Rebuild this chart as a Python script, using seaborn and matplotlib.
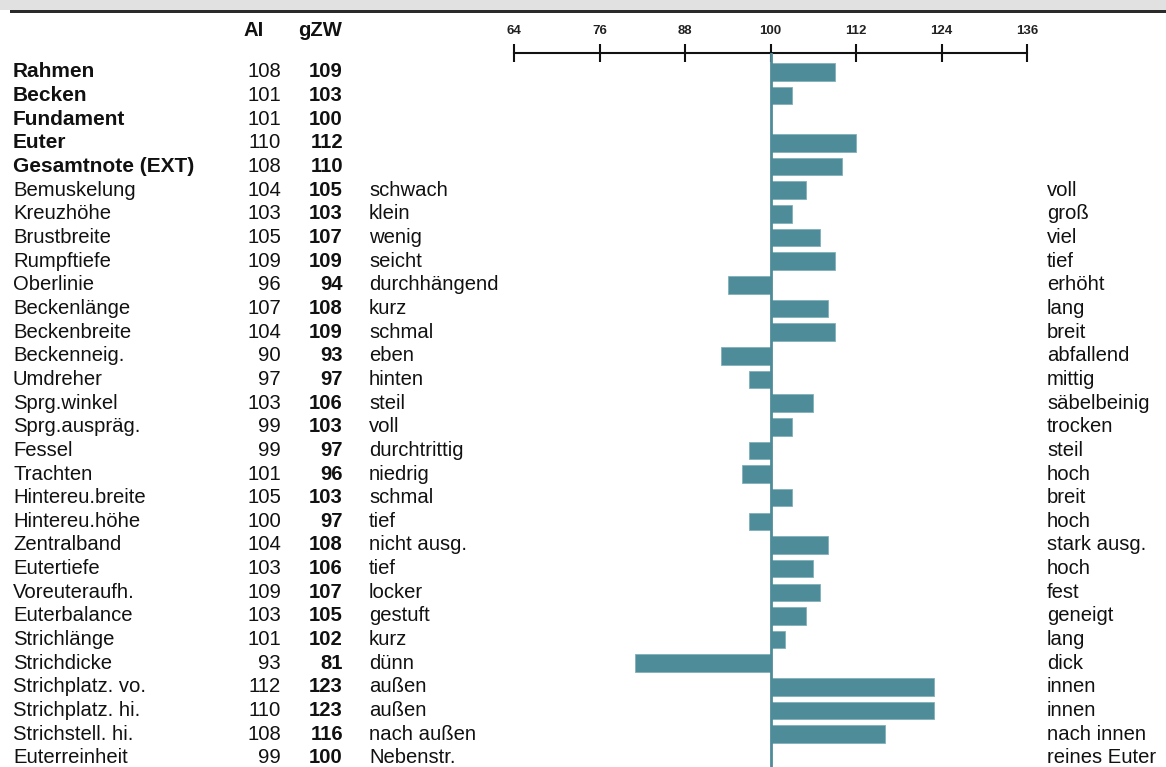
import numpy as np
import pandas as pd
import matplotlib
matplotlib.use("Agg")
import matplotlib.pyplot as plt
import matplotlib.transforms as mtransforms
from matplotlib.patches import Rectangle
import seaborn as sns

# Merkmale (Exterieur) mit AI und gZW
merkmale = ["Rahmen", "Becken", "Fundament", "Euter", "Gesamtnote (EXT)",
            "Bemuskelung", "Kreuzhöhe", "Brustbreite", "Rumpftiefe", "Oberlinie",
            "Beckenlänge", "Beckenbreite", "Beckenneig.", "Umdreher", "Sprg.winkel",
            "Sprg.auspräg.", "Fessel", "Trachten", "Hintereu.breite", "Hintereu.höhe",
            "Zentralband", "Eutertiefe", "Voreuteraufh.", "Euterbalance", "Strichlänge",
            "Strichdicke", "Strichplatz. vo.", "Strichplatz. hi.", "Strichstell. hi.",
            "Euterreinheit"]
ai = [108, 101, 101, 110, 108, 104, 103, 105, 109, 96, 107, 104, 90, 97, 103,
      99, 99, 101, 105, 100, 104, 103, 109, 103, 101, 93, 112, 110, 108, 99]
gzw = [109, 103, 100, 112, 110, 105, 103, 107, 109, 94, 108, 109, 93, 97, 106,
       103, 97, 96, 103, 97, 108, 106, 107, 105, 102, 81, 123, 123, 116, 100]
links = ["", "", "", "", "", "schwach", "klein", "wenig", "seicht", "durchhängend",
         "kurz", "schmal", "eben", "hinten", "steil", "voll", "durchtrittig", "niedrig",
         "schmal", "tief", "nicht ausg.", "tief", "locker", "gestuft", "kurz", "dünn",
         "außen", "außen", "nach außen", "Nebenstr."]
rechts = ["", "", "", "", "", "voll", "groß", "viel", "tief", "erhöht",
          "lang", "breit", "abfallend", "mittig", "säbelbeinig", "trocken", "steil", "hoch",
          "breit", "hoch", "stark ausg.", "hoch", "fest", "geneigt", "lang", "dick",
          "innen", "innen", "nach innen", "reines Euter"]
ticks = [64, 76, 88, 100, 112, 124, 136]
n_bold = 5

sns.set_theme(style="white")
plt.rcParams['font.family'] = ['Liberation Sans', 'DejaVu Sans']

W, H = 1166, 767
fig = plt.figure(figsize=(W / 100, H / 100), dpi=100)

farbe = "#4e8c99"
df = pd.DataFrame({"merkmal": merkmale, "abw": np.array(gzw) - 100})

# Achse: 64 -> px 514, 136 -> px 1027 ; oben px 53, unten px 767
row0, step = 72, 23.65
top_px, bot_px = 53, 767
ax = fig.add_axes([514 / W, 1 - bot_px / H, (1027 - 514) / W, (bot_px - top_px) / H])
sns.barplot(data=df, x="abw", y="merkmal", orient="h", color=farbe,
            saturation=1, width=0.74, ax=ax, edgecolor="#80b0ba", linewidth=0.6)
ax.set_xlim(ticks[0] - 100, ticks[-1] - 100)
ax.set_ylim((bot_px - row0) / step, -(row0 - top_px) / step)
ax.axvline(0, color=farbe, lw=2, zorder=3)

for s in ["left", "right", "bottom"]:
    ax.spines[s].set_visible(False)
ax.spines["top"].set_color("#111111")
ax.spines["top"].set_linewidth(1.5)
ax.xaxis.tick_top()
ax.set_xticks([t - 100 for t in ticks])
ax.set_xticklabels([str(t) for t in ticks], fontsize=9.5, fontweight="bold", color="#222222")
ax.tick_params(axis="x", direction="inout", length=13, width=1.5, color="#111111", pad=5)
ax.set_yticks([])
ax.set_xlabel("")
ax.set_ylabel("")
ax.set_facecolor("none")

# Textspalten
trans = mtransforms.blended_transform_factory(fig.transFigure, ax.transData)
fs = 14.6
txt = "#111111"
for i, m in enumerate(merkmale):
    fw = "bold" if i < n_bold else "normal"
    ax.text(13 / W, i, m, transform=trans, ha="left", va="center",
            fontsize=fs + (0.4 if i < n_bold else 0), fontweight=fw, color=txt, clip_on=False)
    ax.text(281 / W, i, str(ai[i]), transform=trans, ha="right", va="center",
            fontsize=fs, color=txt, clip_on=False)
    ax.text(343 / W, i, str(gzw[i]), transform=trans, ha="right", va="center",
            fontsize=fs, fontweight="bold", color=txt, clip_on=False)
    if links[i]:
        ax.text(369 / W, i, links[i], transform=trans, ha="left", va="center",
                fontsize=fs, color=txt, clip_on=False)
    if rechts[i]:
        ax.text(1047 / W, i, rechts[i], transform=trans, ha="left", va="center",
                fontsize=fs, color=txt, clip_on=False)

# Spaltenkoepfe
fig.text(243 / W, 1 - 31 / H, "AI", ha="left", va="center", fontsize=fs,
         fontweight="bold", color=txt)
fig.text(298 / W, 1 - 31 / H, "gZW", ha="left", va="center", fontsize=fs,
         fontweight="bold", color=txt)

# grauer Kopfbalken oben (abgeschnitten)
fig.patches.append(Rectangle((0, 1 - 10 / H), 1, 10 / H, transform=fig.transFigure,
                             facecolor="#e1e1e1", edgecolor="none"))
fig.patches.append(Rectangle((10 / W, 1 - 12.5 / H), 1 - 10 / W, 2.5 / H,
                             transform=fig.transFigure, facecolor="#2a2a2a",
                             edgecolor="none"))

fig.savefig("out.png", dpi=100)
